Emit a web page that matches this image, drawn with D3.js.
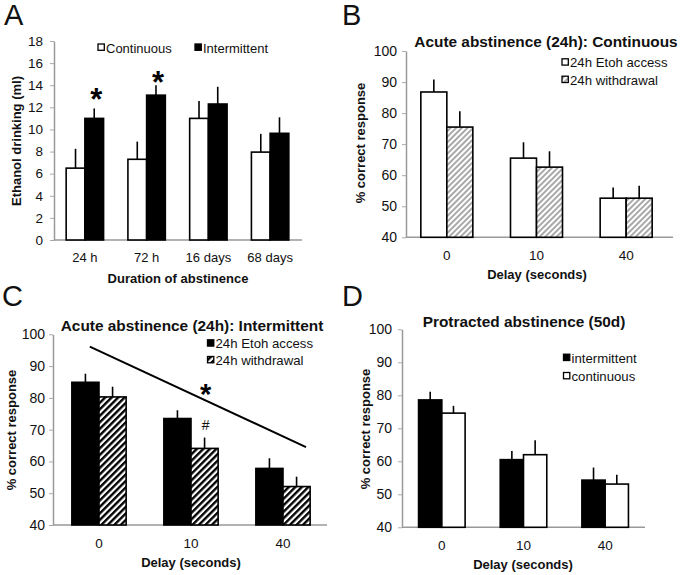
<!DOCTYPE html>
<html><head><meta charset="utf-8">
<script src="https://cdn.jsdelivr.net/npm/d3@7"></script>
<style>body{margin:0;background:#fff}svg{display:block;font-family:"Liberation Sans",Arial,sans-serif}</style>
</head><body>
<svg id="chart" width="680" height="575"></svg>
<script>
// ---------- DATA ----------
// Panel A
const aCategories = ["24 h", "72 h", "16 days", "68 days"];
const aContinuous = [6.5, 7.3, 11.0, 7.95];
const aContinuousErr = [1.75, 1.6, 1.57, 1.65];
const aIntermittent = [11.0, 13.1, 12.3, 9.65];
const aIntermittentErr = [0.9, 0.9, 1.56, 1.45];
const aYTicks = [0, 2, 4, 6, 8, 10, 12, 14, 16, 18];
const aStars = [{cat: "24 h", value: 13.3}, {cat: "72 h", value: 14.9}];

// Panel B
const bCategories = ["0", "10", "40"];
const bAccess = [86.8, 65.5, 52.6];
const bAccessErr = [4.0, 5.1, 3.4];
const bWithdrawal = [75.5, 62.6, 52.6];
const bWithdrawalErr = [5.1, 5.1, 4.0];

// Panel C
const cCategories = ["0", "10", "40"];
const cAccess = [84.9, 73.5, 57.8];
const cAccessErr = [2.7, 2.6, 3.2];
const cWithdrawal = [80.3, 64.1, 52.1];
const cWithdrawalErr = [3.2, 3.4, 3.1];
const cTrend = [{cat: "0", shift: -0.1, value: 96.1}, {cat: "40", shift: 0.25, value: 64.5}];

// Panel D
const dCategories = ["0", "10", "40"];
const dIntermittent = [78.6, 60.5, 54.3];
const dIntermittentErr = [2.5, 2.6, 3.8];
const dContinuous = [74.6, 62.0, 53.1];
const dContinuousErr = [2.2, 4.4, 2.8];

const pctTicks = [40, 50, 60, 70, 80, 90, 100];

// ---------- DRAW ----------
const svg = d3.select("#chart");
const defs = svg.append("defs");
defs.append("pattern").attr("id", "hatchGray").attr("patternUnits", "userSpaceOnUse")
  .attr("width", 4).attr("height", 4).attr("patternTransform", "rotate(45)")
  .call(p => {
    p.append("rect").attr("width", 4).attr("height", 4).attr("fill", "#fff");
    p.append("line").attr("x1", 1).attr("y1", 0).attr("x2", 1).attr("y2", 4)
      .attr("stroke", "#8c8c8c").attr("stroke-width", 1.5);
  });
defs.append("pattern").attr("id", "hatchBlack").attr("patternUnits", "userSpaceOnUse")
  .attr("width", 4.6).attr("height", 4.6).attr("patternTransform", "rotate(45)")
  .call(p => {
    p.append("rect").attr("width", 4.6).attr("height", 4.6).attr("fill", "#fff");
    p.append("line").attr("x1", 1.2).attr("y1", 0).attr("x2", 1.2).attr("y2", 4.6)
      .attr("stroke", "#000").attr("stroke-width", 2.4);
  });

const FILLS = {white: "#fff", black: "#000", hatchGray: "url(#hatchGray)", hatchBlack: "url(#hatchBlack)"};

function panel(cfg) {
  const g = svg.append("g");
  const x = d3.scaleBand().domain(cfg.categories).range(cfg.bandRange)
    .paddingInner(cfg.pad).paddingOuter(cfg.pad / 2);
  const xs = d3.scaleBand().domain(cfg.series.map((s, i) => i)).range([0, x.bandwidth()]);
  const y = d3.scaleLinear().domain(cfg.yDomain).range(cfg.yRange);

  // y axis
  const yAxis = d3.axisLeft(y).tickValues(cfg.yTicks).tickSize(4).tickSizeOuter(0).tickPadding(cfg.tickPad);
  const ya = g.append("g").attr("transform", `translate(${cfg.axisX},0)`).call(yAxis);
  ya.select(".domain").attr("stroke", "#999").attr("stroke-width", 1.5);
  ya.selectAll(".tick line").attr("stroke", "#aaa").attr("stroke-width", 1);
  ya.selectAll(".tick text").attr("font-size", cfg.yFont).attr("fill", "#111")
    .attr("font-family", "Liberation Sans, Arial, sans-serif");

  // x axis line & labels
  const xa = d3.axisBottom(x).tickSize(0).tickPadding(0);
  const xg = g.append("g").attr("transform", `translate(0,${cfg.yRange[0]})`).call(xa);
  xg.select(".domain").remove();
  xg.selectAll(".tick text").attr("font-size", cfg.xFont).attr("fill", "#111")
    .attr("font-family", "Liberation Sans, Arial, sans-serif")
    .attr("dy", null).attr("y", cfg.xLabelY - cfg.yRange[0]);
  g.append("line").attr("x1", cfg.axisX).attr("x2", cfg.axisEnd)
    .attr("y1", y(cfg.yDomain[0])).attr("y2", y(cfg.yDomain[0]))
    .attr("stroke", "#999").attr("stroke-width", 1.5);

  // bars
  cfg.series.forEach((s, si) => {
    const rows = cfg.categories.map((c, i) => ({c, v: s.values[i], e: s.err[i]}));
    g.selectAll(null).data(rows).enter().append("rect")
      .attr("x", d => x(d.c) + xs(si)).attr("width", xs.bandwidth())
      .attr("y", d => y(d.v)).attr("height", d => y(cfg.yDomain[0]) - y(d.v))
      .attr("fill", FILLS[s.fill]).attr("stroke", "#000").attr("stroke-width", 1.6);
    g.selectAll(null).data(rows).enter().append("line")
      .attr("x1", d => x(d.c) + xs(si) + xs.bandwidth() / 2)
      .attr("x2", d => x(d.c) + xs(si) + xs.bandwidth() / 2)
      .attr("y1", d => y(d.v)).attr("y2", d => y(d.v + d.e))
      .attr("stroke", "#000").attr("stroke-width", 1.6);
  });

  // legend
  cfg.series.forEach((s, si) => {
    const L = cfg.legend[si];
    g.append("rect").attr("x", L.x).attr("y", L.y - 8.5).attr("width", 6.3).attr("height", 6.3)
      .attr("fill", FILLS[s.fill]).attr("stroke", "#000").attr("stroke-width", 1.3);
    g.append("text").attr("x", L.x + 8).attr("y", L.y).attr("font-size", cfg.legendFont)
      .attr("fill", "#111").text(s.name);
  });

  // title
  if (cfg.title) {
    g.append("text").attr("x", cfg.title.x).attr("y", cfg.title.y).attr("text-anchor", "middle")
      .attr("font-size", 15.4).attr("font-weight", "bold").attr("fill", "#111").text(cfg.title.text);
  }
  // axis titles
  g.append("text").attr("transform", `translate(${cfg.yLabel.x},${cfg.yLabel.y}) rotate(-90)`)
    .attr("text-anchor", "middle").attr("dy", "0.35em").attr("font-size", 13).attr("font-weight", "bold")
    .attr("fill", "#111").text(cfg.yLabel.text);
  g.append("text").attr("x", cfg.xLabel.x).attr("y", cfg.xLabel.y).attr("text-anchor", "middle")
    .attr("font-size", 13).attr("font-weight", "bold").attr("fill", "#111").text(cfg.xLabel.text);
  // panel letter
  g.append("text").attr("x", cfg.letter.x).attr("y", cfg.letter.y).attr("font-size", 29)
    .attr("fill", "#111").text(cfg.letter.text);

  return {g, x, y, xs};
}

// Panel A
const pA = panel({
  categories: aCategories, bandRange: [54, 301], pad: 0.394,
  series: [
    {name: "Continuous", values: aContinuous, err: aContinuousErr, fill: "white"},
    {name: "Intermittent", values: aIntermittent, err: aIntermittentErr, fill: "black"}
  ],
  yDomain: [0, 18], yRange: [240, 41], yTicks: aYTicks, axisX: 54, axisEnd: 302, tickPad: 7,
  yFont: 13.5, xFont: 13, xLabelY: 262, legendFont: 13,
  legend: [{x: 98, y: 52.5}, {x: 195, y: 52.5}],
  yLabel: {x: 16.5, y: 141, text: "Ethanol drinking (ml)"},
  xLabel: {x: 178, y: 283, text: "Duration of abstinence"},
  letter: {x: 4, y: 25, text: "A"}
});
pA.g.selectAll(null).data(aStars).enter().append("text")
  .attr("x", d => pA.x(d.cat) + pA.xs(1) + pA.xs.bandwidth() / 2 + 2)
  .attr("y", d => pA.y(d.value) + 17.5).attr("text-anchor", "middle")
  .attr("font-size", 31).attr("font-weight", "bold").attr("fill", "#000").text("*");

// Panel B
panel({
  categories: bCategories, bandRange: [402, 671], pad: 0.42,
  series: [
    {name: "24h Etoh access", values: bAccess, err: bAccessErr, fill: "white"},
    {name: "24h withdrawal", values: bWithdrawal, err: bWithdrawalErr, fill: "hatchGray"}
  ],
  yDomain: [40, 100], yRange: [237.3, 51], yTicks: pctTicks, axisX: 406, axisEnd: 673, tickPad: 5,
  yFont: 14, xFont: 13.5, xLabelY: 260, legendFont: 13.2,
  legend: [{x: 562, y: 67.3}, {x: 562, y: 84.7}],
  title: {x: 546, y: 46.5, text: "Acute abstinence (24h): Continuous"},
  yLabel: {x: 360, y: 143, text: "% correct response"},
  xLabel: {x: 537, y: 279, text: "Delay (seconds)"},
  letter: {x: 342, y: 25, text: "B"}
});

// Panel C
const pC = panel({
  categories: cCategories, bandRange: [53, 329], pad: 0.41,
  series: [
    {name: "24h Etoh access", values: cAccess, err: cAccessErr, fill: "black"},
    {name: "24h withdrawal", values: cWithdrawal, err: cWithdrawalErr, fill: "hatchBlack"}
  ],
  yDomain: [40, 100], yRange: [525, 334.3], yTicks: pctTicks, axisX: 53, axisEnd: 327, tickPad: 4,
  yFont: 14, xFont: 13.5, xLabelY: 548, legendFont: 13.2,
  legend: [{x: 207.5, y: 348.3}, {x: 207.5, y: 365}],
  title: {x: 192, y: 331, text: "Acute abstinence (24h): Intermittent"},
  yLabel: {x: 11.7, y: 430, text: "% correct response"},
  xLabel: {x: 191, y: 567, text: "Delay (seconds)"},
  letter: {x: 2, y: 305.5, text: "C"}
});
pC.g.append("path")
  .datum(cTrend)
  .attr("d", d3.line().x(d => pC.x(d.cat) + pC.x.bandwidth() / 2 + d.shift * pC.x.step()).y(d => pC.y(d.value)))
  .attr("stroke", "#000").attr("stroke-width", 2).attr("fill", "none");
pC.g.append("text").attr("x", pC.x("10") + pC.x.bandwidth() / 2 + 0.16 * pC.x.step())
  .attr("y", pC.y(83.4) + 16.5).attr("text-anchor", "middle").attr("font-size", 29)
  .attr("font-weight", "bold").attr("fill", "#000").text("*");
pC.g.append("text").attr("x", pC.x("10") + pC.xs(1) + pC.xs.bandwidth() / 2 + 1)
  .attr("y", pC.y(71.5) + 5).attr("text-anchor", "middle").attr("font-size", 14)
  .attr("fill", "#111").text("#");

// Panel D
panel({
  categories: dCategories, bandRange: [401, 646], pad: 0.43,
  series: [
    {name: "intermittent", values: dIntermittent, err: dIntermittentErr, fill: "black"},
    {name: "continuous", values: dContinuous, err: dContinuousErr, fill: "white"}
  ],
  yDomain: [40, 100], yRange: [527.3, 329.3], yTicks: pctTicks, axisX: 402, axisEnd: 645, tickPad: 6,
  yFont: 14, xFont: 13.5, xLabelY: 550, legendFont: 13.2,
  legend: [{x: 563.5, y: 362.7}, {x: 563.5, y: 381}],
  title: {x: 524, y: 326.5, text: "Protracted abstinence (50d)"},
  yLabel: {x: 365, y: 429, text: "% correct response"},
  xLabel: {x: 523, y: 569, text: "Delay (seconds)"},
  letter: {x: 342, y: 305.5, text: "D"}
});
</script>
</body></html>
